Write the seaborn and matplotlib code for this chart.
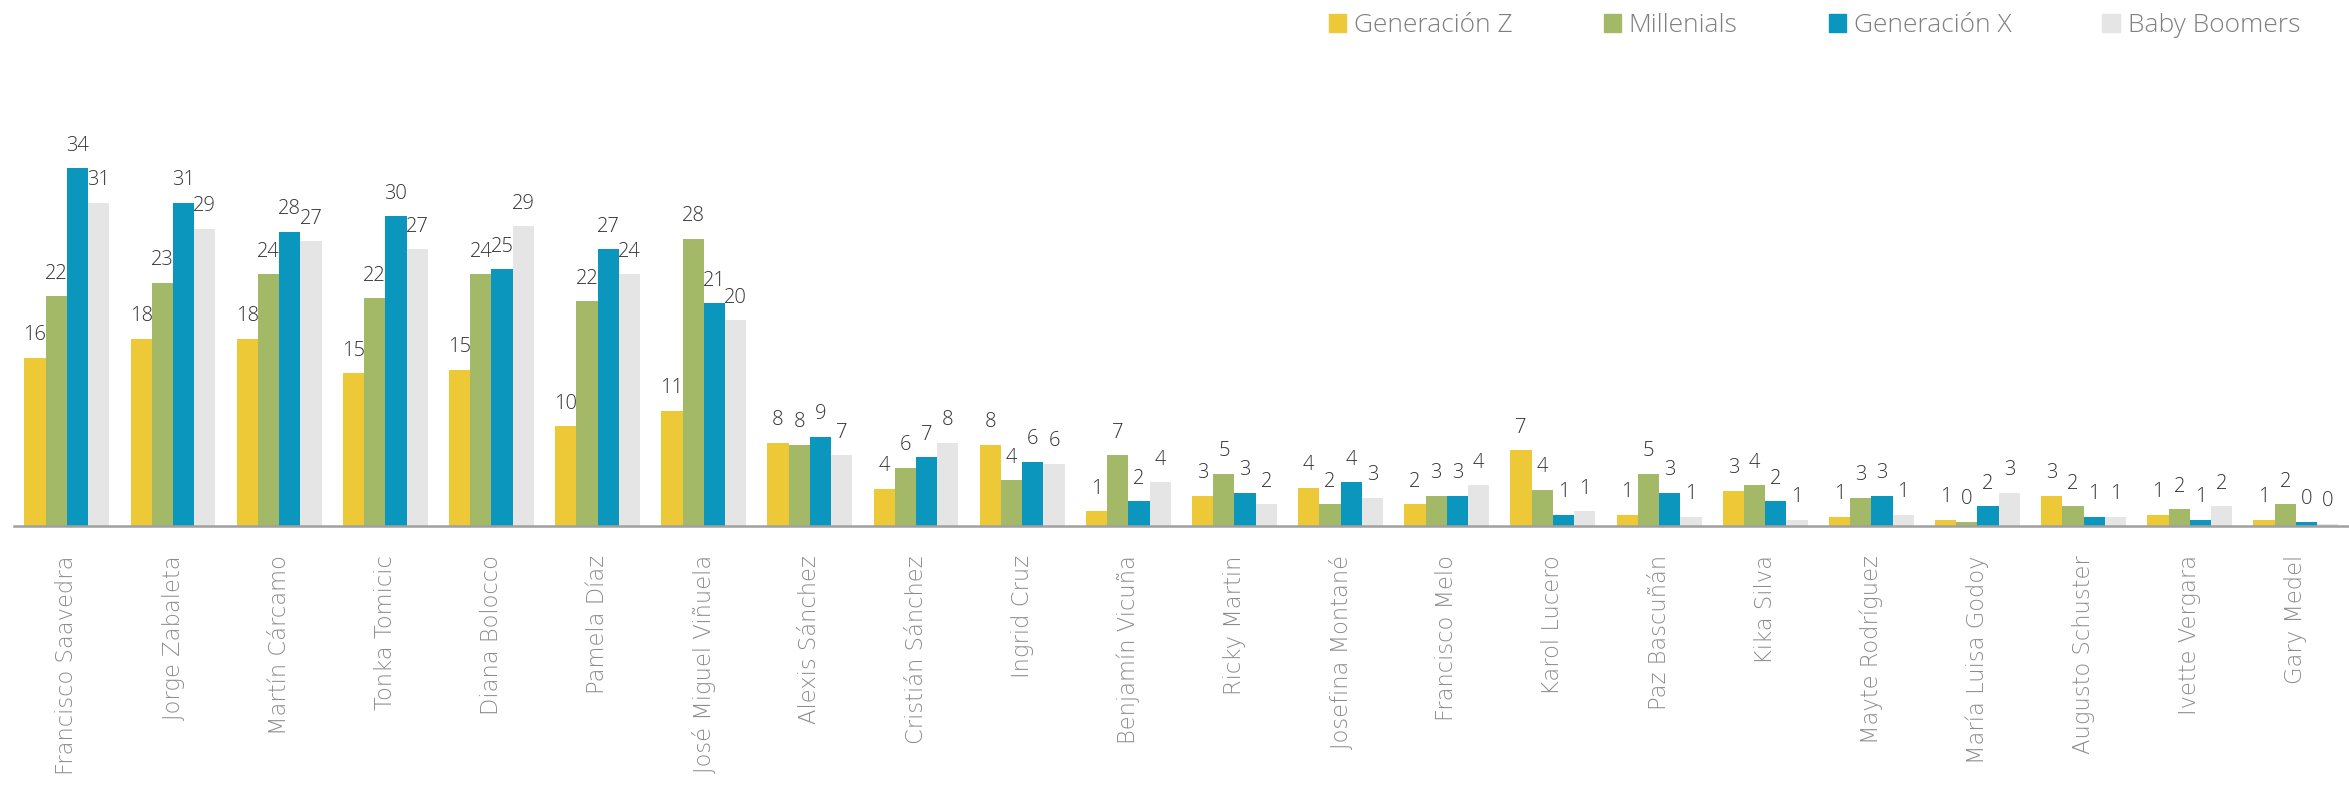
import matplotlib
matplotlib.use("Agg")
import matplotlib.pyplot as plt
import matplotlib.patches as mpatches
import seaborn as sns
import pandas as pd

categories = ["Francisco Saavedra", "Jorge Zabaleta", "Martín Cárcamo", "Tonka Tomicic",
              "Diana Bolocco", "Pamela Díaz", "José Miguel Viñuela", "Alexis Sánchez",
              "Cristián Sánchez", "Ingrid Cruz", "Benjamín Vicuña", "Ricky Martin",
              "Josefina Montané", "Francisco Melo", "Karol Lucero", "Paz Bascuñán",
              "Kika Silva", "Mayte Rodríguez", "María Luisa Godoy", "Augusto Schuster",
              "Ivette Vergara", "Gary Medel"]
series = ["Generación Z", "Millenials", "Generación X", "Baby Boomers"]
gen_z = [16.2, 18.0, 18.0, 14.7, 15.0, 9.6, 11.1, 8.0, 3.6, 7.8, 1.4, 2.9, 3.7, 2.1,
         7.3, 1.1, 3.4, 0.9, 0.6, 2.9, 1.1, 0.6]
millenials = [22.1, 23.4, 24.2, 21.9, 24.2, 21.6, 27.6, 7.8, 5.6, 4.4, 6.8, 5.0, 2.1, 2.9,
              3.5, 5.0, 3.9, 2.7, 0.4, 1.9, 1.6, 2.1]
gen_x = [34.4, 31.1, 28.3, 29.8, 24.7, 26.6, 21.4, 8.6, 6.6, 6.2, 2.4, 3.2, 4.2, 2.9,
         1.1, 3.2, 2.4, 2.9, 1.9, 0.9, 0.6, 0.4]
boomers = [31.1, 28.6, 27.4, 26.6, 28.8, 24.2, 19.8, 6.8, 8.0, 6.0, 4.2, 2.1, 2.7, 3.9,
           1.4, 0.9, 0.6, 1.1, 3.2, 0.9, 1.9, 0.2]
colors = ["#EDC937", "#A3B968", "#0A96BD", "#E5E5E5"]

rows = []
for s, vals in zip(series, [gen_z, millenials, gen_x, boomers]):
    for c, v in zip(categories, vals):
        rows.append({"name": c, "gen": s, "value": v})
df = pd.DataFrame(rows)

sns.set_style("white")
plt.rcParams["font.family"] = ["Open Sans", "DejaVu Sans"]

W, H = 2349, 787
fig = plt.figure(figsize=(W / 100, H / 100), dpi=100)
left_px, base_px, step = 13.8, 526, 106.9
ymax = 40
px_per_unit = 10.4
ax_h = ymax * px_per_unit
ax = fig.add_axes([left_px / W, (H - base_px) / H, 1 - left_px / W, ax_h / H])

sns.barplot(data=df, x="name", y="value", hue="gen", order=categories, hue_order=series,
            palette=colors, width=0.8, gap=0, saturation=1, legend=False, ax=ax,
            errorbar=None, linewidth=0)

for cont, vals in zip(ax.containers, [gen_z, millenials, gen_x, boomers]):
    ax.bar_label(cont, labels=[f"{round(v)}" for v in vals], padding=9,
                 fontsize=14.5, color="#333333", fontweight="light")

ax.set_xlim(-0.5, -0.5 + (W - left_px) / step)
ax.set_ylim(0, ymax)
ax.set_xlabel("")
ax.set_ylabel("")
ax.set_yticks([])
for s in ["left", "right", "top"]:
    ax.spines[s].set_visible(False)
ax.spines["bottom"].set_color("#A0A0A0")
ax.spines["bottom"].set_linewidth(1.8)

ax.set_xticks(range(len(categories)))
ax.set_xticklabels(categories, rotation=90, fontsize=16.3, color="#8C8C8C",
                   family=["DejaVu Sans"], fontweight="light")
ax.tick_params(axis="x", which="major", length=0, pad=21)
ax.set_xticks([i - 0.5 for i in range(len(categories) + 1)], minor=True)
ax.tick_params(axis="x", which="minor", length=7, width=1.2, color="#A0A0A0", direction="out")

handles = [mpatches.Patch(color=c, label=s) for c, s in zip(colors, series)]
fig.legend(handles=handles, loc="center right", bbox_to_anchor=(2300 / W, 1 - 26 / H),
           ncol=4, frameon=False, prop={"size": 19, "weight": "light"},
           labelcolor="#7F7F7F",
           handlelength=0.65, handleheight=0.65, handletextpad=0.3, columnspacing=3.45,
           borderaxespad=0, borderpad=0)

fig.savefig("out.png", dpi=100)
